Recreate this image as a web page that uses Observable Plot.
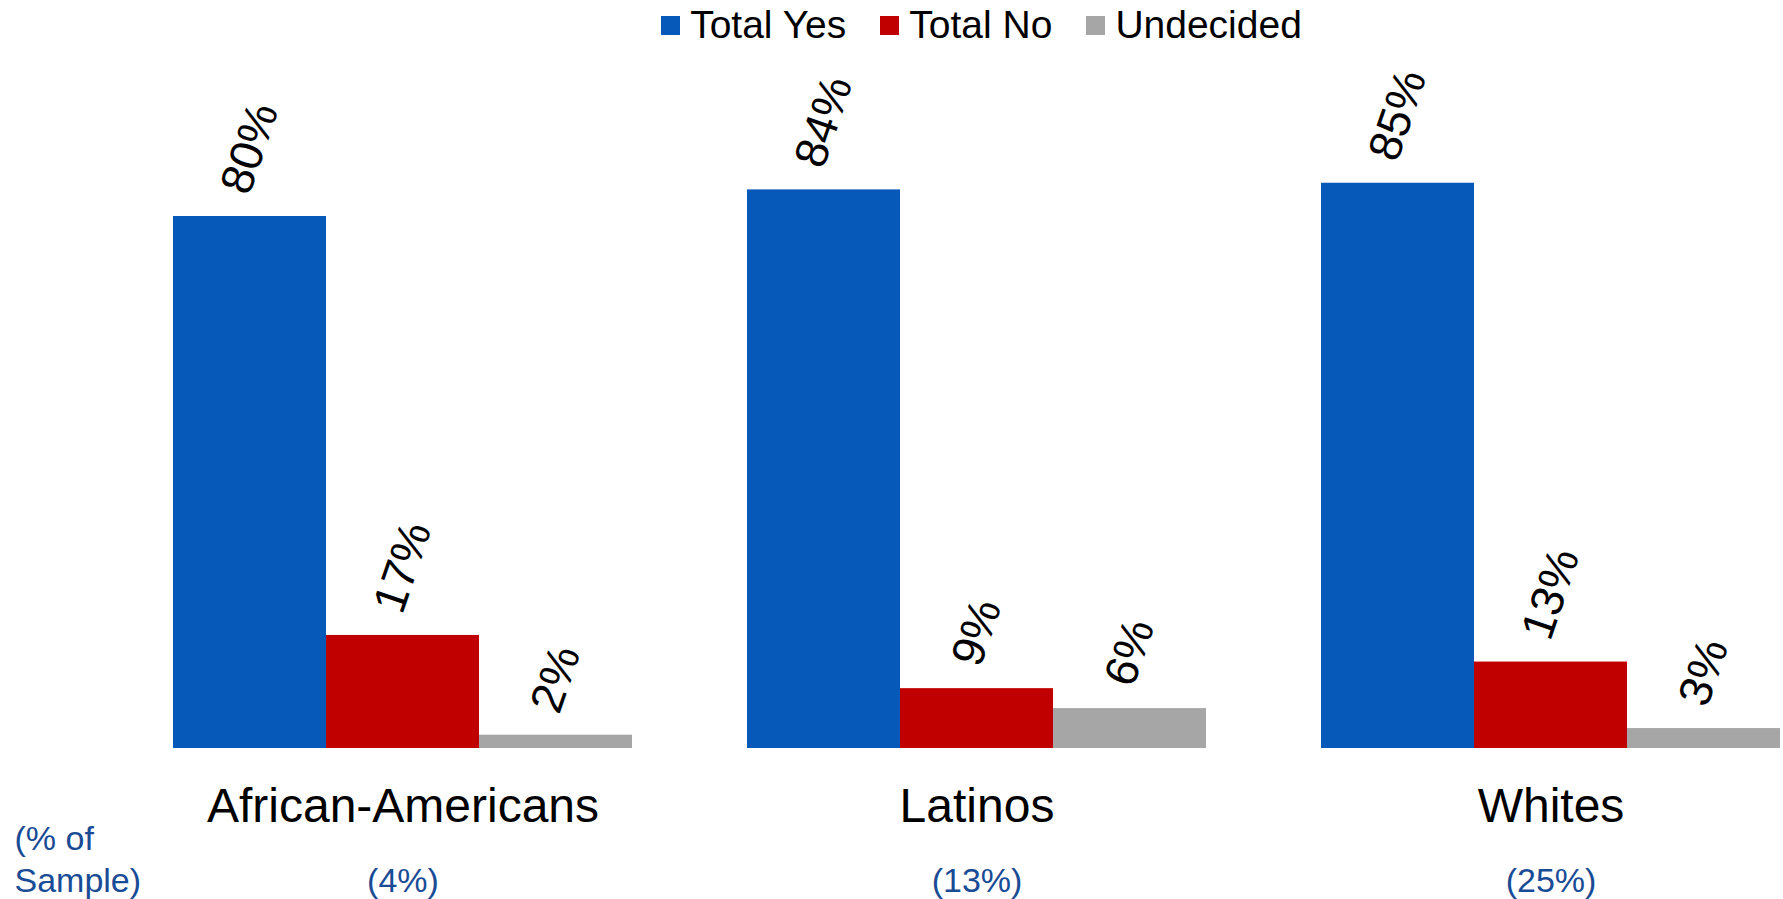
<!DOCTYPE html>
<html>
<head>
<meta charset="utf-8">
<script src="https://cdn.jsdelivr.net/npm/d3@7"></script>
<script src="https://cdn.jsdelivr.net/npm/@observablehq/plot@0.6"></script>
<style>
  html, body { margin: 0; padding: 0; background: #fff; }
  body { width: 1783px; height: 899px; overflow: hidden; font-family: "Liberation Sans", Arial, sans-serif; }
  #legend { height: 50px; box-sizing: border-box; padding-left: 186px; padding-right: 6px;
    display: flex; justify-content: center; align-items: center; font-size: 39px; color: #000; }
  .item { display: flex; align-items: center; margin: 0 17px; }
  .sw { width: 19px; height: 19px; margin-right: 10px; }
</style>
</head>
<body>
<div id="legend"></div>
<div id="chart"></div>
<script>
const groups = ["African-Americans", "Latinos", "Whites"];
const samples = ["(4%)", "(13%)", "(25%)"];
const series = ["Total Yes", "Total No", "Undecided"];
const colors = ["#0659b8", "#c00000", "#a6a6a6"];
const totalYes = [80, 84, 85];
const totalNo = [17, 9, 13];
const undecided = [2, 6, 3];
const sampleNote = "(% of\nSample)";

const valuesBySeries = [totalYes, totalNo, undecided];
const data = [];
groups.forEach((g, gi) => {
  series.forEach((s, si) => {
    data.push({group: g, series: s, value: valuesBySeries[si][gi]});
  });
});
const groupRows = groups.map((g, i) => ({group: g, sample: samples[i]}));

// legend
const legend = document.getElementById("legend");
series.forEach((s, i) => {
  const it = document.createElement("div");
  it.className = "item";
  it.innerHTML = `<span class="sw" style="background:${colors[i]}"></span><span>${s}</span>`;
  legend.appendChild(it);
});

const label = d => d.value + "%";
const noteColor = "#1a4c96";

const chart = Plot.plot({
  width: 1783,
  height: 849,
  marginLeft: 172,
  marginRight: 2,
  marginTop: 33,
  marginBottom: 151,
  style: {fontFamily: "'Liberation Sans', Arial, sans-serif", background: "#fff", overflow: "visible"},
  fx: {domain: groups, paddingInner: 0.2, paddingOuter: 0, axis: null},
  x: {domain: series, padding: 0, axis: null},
  y: {domain: [0, 100], axis: null},
  color: {domain: series, range: colors},
  marks: [
    Plot.barY(data, {fx: "group", x: "series", y: "value", fill: "series", inset: 0}),
    Plot.text(data.filter(d => label(d).length >= 3), {
      fx: "group", x: "series", y: "value", text: label,
      rotate: -71, dy: -68, fontSize: 46, fill: "#000",
      textAnchor: "middle", lineAnchor: "middle"
    }),
    Plot.text(data.filter(d => label(d).length < 3), {
      fx: "group", x: "series", y: "value", text: label,
      rotate: -71, dy: -56, fontSize: 46, fill: "#000",
      textAnchor: "middle", lineAnchor: "middle"
    }),
    Plot.text(groupRows, {
      fx: "group", text: "group", frameAnchor: "bottom",
      lineAnchor: "bottom", dy: 73, fontSize: 48, fill: "#000"
    }),
    Plot.text(groupRows, {
      fx: "group", text: "sample", frameAnchor: "bottom",
      lineAnchor: "bottom", dy: 143, fontSize: 34, fill: noteColor
    }),
    Plot.text([sampleNote], {
      facet: "super", text: d => d, frameAnchor: "bottom-left",
      textAnchor: "start", lineAnchor: "bottom", dx: -159, dy: 143,
      lineHeight: 1.235, fontSize: 34, fill: noteColor
    })
  ]
});
document.getElementById("chart").appendChild(chart);
</script>
</body>
</html>
